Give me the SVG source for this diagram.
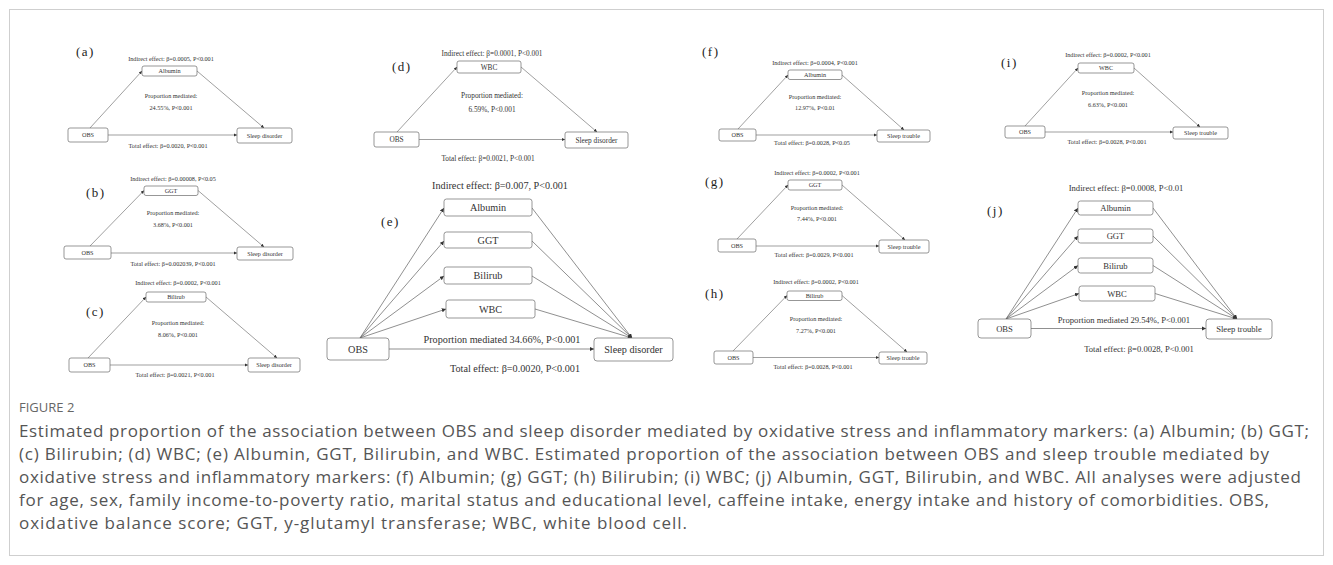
<svg xmlns="http://www.w3.org/2000/svg" width="1333" height="565" viewBox="0 0 1333 565">
<style>
.bx{fill:#fff;stroke:#6a6a6a;stroke-width:0.7}
.t{font-family:"Liberation Serif","Times New Roman",serif;fill:#333;text-anchor:middle}
.lb{font-family:"Liberation Serif","Times New Roman",serif;fill:#222;font-size:13px;letter-spacing:1.5px}
.ln{stroke:#606060;stroke-width:0.6;fill:none;marker-end:url(#ah)}
.lnL{stroke:#606060;stroke-width:0.7;fill:none;marker-end:url(#ahL)}
.s6{font-size:6.2px}.s7{font-size:7.3px}.s8{font-size:8.6px}.s10{font-size:10.2px}
.cap{font-family:"Open Sans","Liberation Sans",sans-serif;fill:#555;font-size:17px}
.fig{font-family:"Open Sans","Liberation Sans",sans-serif;fill:#666;font-size:13px}
</style>
<defs>
<marker id="ah" viewBox="0 0 6 6" refX="6" refY="3" markerWidth="3.2" markerHeight="3.2" markerUnits="userSpaceOnUse" orient="auto"><path d="M0,0 L6,3 L0,6 z" fill="#333"/></marker>
<marker id="ahL" viewBox="0 0 6 6" refX="6" refY="3" markerWidth="4.2" markerHeight="4.2" markerUnits="userSpaceOnUse" orient="auto"><path d="M0,0 L6,3 L0,6 z" fill="#333"/></marker>
</defs>
<rect x="9.5" y="9.5" width="1314" height="546" fill="#fff" stroke="#cfcfcf" stroke-width="1"/>

<g id="connectors">
<line class="ln" x1="90" y1="128" x2="142" y2="71"/>
<line class="ln" x1="197" y1="71" x2="264" y2="128"/>
<line class="ln" x1="108" y1="135" x2="237" y2="135"/>
<line class="ln" x1="90" y1="246" x2="144" y2="190.5"/>
<line class="ln" x1="198" y1="190.5" x2="264" y2="247"/>
<line class="ln" x1="111" y1="253" x2="237" y2="253"/>
<line class="ln" x1="88" y1="358" x2="146" y2="297"/>
<line class="ln" x1="206" y1="297" x2="277" y2="358"/>
<line class="ln" x1="110" y1="365" x2="248" y2="365"/>
<line class="ln" x1="397" y1="132" x2="457" y2="67"/>
<line class="ln" x1="521" y1="67" x2="597" y2="132"/>
<line class="ln" x1="419" y1="139.5" x2="565" y2="139.5"/>
<line class="lnL" x1="360" y1="338" x2="444" y2="208"/>
<line class="lnL" x1="360" y1="338" x2="444" y2="241"/>
<line class="lnL" x1="360" y1="338" x2="444" y2="276"/>
<line class="lnL" x1="360" y1="338" x2="446" y2="309"/>
<line class="lnL" x1="532" y1="208" x2="632" y2="338"/>
<line class="lnL" x1="532" y1="241" x2="632" y2="338"/>
<line class="lnL" x1="532" y1="276" x2="632" y2="338"/>
<line class="lnL" x1="535" y1="309" x2="632" y2="338"/>
<line class="lnL" x1="389" y1="349" x2="594" y2="349"/>
<line class="ln" x1="738" y1="129" x2="788" y2="75"/>
<line class="ln" x1="842" y1="75" x2="904" y2="130"/>
<line class="ln" x1="756" y1="135" x2="877" y2="135"/>
<line class="ln" x1="737" y1="239" x2="788" y2="185"/>
<line class="ln" x1="842" y1="185" x2="905" y2="240"/>
<line class="ln" x1="756" y1="246" x2="879" y2="246"/>
<line class="ln" x1="733" y1="351" x2="787" y2="295.5"/>
<line class="ln" x1="842" y1="295.5" x2="907" y2="352"/>
<line class="ln" x1="753" y1="357.5" x2="879" y2="357.5"/>
<line class="ln" x1="1025" y1="126" x2="1078" y2="68"/>
<line class="ln" x1="1134" y1="68" x2="1200" y2="127"/>
<line class="ln" x1="1045" y1="132" x2="1173" y2="132"/>
<line class="lnL" x1="1006" y1="319" x2="1078" y2="208"/>
<line class="lnL" x1="1006" y1="319" x2="1078" y2="236"/>
<line class="lnL" x1="1006" y1="319" x2="1078" y2="265.5"/>
<line class="lnL" x1="1006" y1="319" x2="1079" y2="293.5"/>
<line class="lnL" x1="1153" y1="208" x2="1237" y2="319"/>
<line class="lnL" x1="1153" y1="236" x2="1237" y2="319"/>
<line class="lnL" x1="1153" y1="265.5" x2="1237" y2="319"/>
<line class="lnL" x1="1155" y1="293.5" x2="1237" y2="319"/>
<line class="lnL" x1="1031" y1="328.5" x2="1206" y2="328.5"/>
</g>

<g id="a-labels">
<text class="lb" x="76" y="56">(a)</text>
<text class="t s6" x="171" y="61">Indirect effect: β=0.0005, P&lt;0.001</text>
<text class="t s6" x="171" y="98">Proportion mediated:</text>
<text class="t s6" x="171" y="110">24.55%, P&lt;0.001</text>
<text class="t s6" x="168" y="147.5">Total effect: β=0.0020, P&lt;0.001</text>
</g>
<g id="a-albumin"><rect class="bx" x="142" y="66" width="55" height="10" rx="2"/><text class="t s6" x="169.5" y="73.2">Albumin</text></g>
<g id="a-obs"><rect class="bx" x="68" y="128" width="40" height="14" rx="2"/><text class="t s6" x="88" y="137.2">OBS</text></g>
<g id="a-sleep"><rect class="bx" x="237" y="128" width="55" height="15" rx="2"/><text class="t s6" x="264.5" y="137.7">Sleep disorder</text></g>

<g id="b-labels">
<text class="lb" x="86" y="197">(b)</text>
<text class="t s6" x="173" y="180.5">Indirect effect: β=0.00008, P&lt;0.05</text>
<text class="t s6" x="173" y="215">Proportion mediated:</text>
<text class="t s6" x="173" y="227">3.68%, P&lt;0.001</text>
<text class="t s6" x="173" y="266">Total effect: β=0.002039, P&lt;0.001</text>
</g>
<g id="b-ggt"><rect class="bx" x="144" y="186" width="54" height="9.5" rx="2"/><text class="t s6" x="171" y="193">GGT</text></g>
<g id="b-obs"><rect class="bx" x="64" y="246" width="47" height="13" rx="2"/><text class="t s6" x="87.5" y="254.7">OBS</text></g>
<g id="b-sleep"><rect class="bx" x="237" y="247" width="56" height="13" rx="2"/><text class="t s6" x="265" y="255.7">Sleep disorder</text></g>

<g id="c-labels">
<text class="lb" x="86" y="316">(c)</text>
<text class="t s6" x="178" y="285">Indirect effect: β=0.0002, P&lt;0.001</text>
<text class="t s6" x="178" y="325">Proportion mediated:</text>
<text class="t s6" x="178" y="337">8.06%, P&lt;0.001</text>
<text class="t s6" x="175" y="377">Total effect: β=0.0021, P&lt;0.001</text>
</g>
<g id="c-bilirub"><rect class="bx" x="146" y="292" width="60" height="10" rx="2"/><text class="t s6" x="176" y="299.2">Bilirub</text></g>
<g id="c-obs"><rect class="bx" x="69" y="358" width="41" height="14" rx="2"/><text class="t s6" x="89.5" y="367.2">OBS</text></g>
<g id="c-sleep"><rect class="bx" x="248" y="358" width="52" height="14" rx="2"/><text class="t s6" x="274" y="367.2">Sleep disorder</text></g>

<g id="d-labels">
<text class="lb" x="392" y="71">(d)</text>
<text class="t s7" x="492" y="55.5">Indirect effect: β=0.0001, P&lt;0.001</text>
<text class="t s7" x="492" y="97.5">Proportion mediated:</text>
<text class="t s7" x="492" y="111.5">6.59%, P&lt;0.001</text>
<text class="t s7" x="488" y="160.5">Total effect: β=0.0021, P&lt;0.001</text>
</g>
<g id="d-wbc"><rect class="bx" x="457" y="61" width="64" height="12" rx="2"/><text class="t s7" x="489" y="69.5">WBC</text></g>
<g id="d-obs"><rect class="bx" x="374" y="132" width="45" height="15" rx="2"/><text class="t s7" x="396.5" y="142">OBS</text></g>
<g id="d-sleep"><rect class="bx" x="565" y="132" width="63" height="16" rx="2"/><text class="t s7" x="596.5" y="142.5">Sleep disorder</text></g>

<g id="e-labels">
<text class="lb" x="381" y="226">(e)</text>
<text class="t s10" x="500" y="188.5">Indirect effect: β=0.007, P&lt;0.001</text>
<text class="t s10" x="502" y="342.5">Proportion mediated 34.66%, P&lt;0.001</text>
<text class="t s10" x="515" y="372">Total effect: β=0.0020, P&lt;0.001</text>
</g>
<g id="e-albumin"><rect class="bx" x="444" y="199" width="88" height="17" rx="2.5"/><text class="t s10" x="488" y="211">Albumin</text></g>
<g id="e-ggt"><rect class="bx" x="444" y="232" width="88" height="16" rx="2.5"/><text class="t s10" x="488" y="243.5">GGT</text></g>
<g id="e-bilirub"><rect class="bx" x="444" y="267" width="88" height="17" rx="2.5"/><text class="t s10" x="488" y="279">Bilirub</text></g>
<g id="e-wbc"><rect class="bx" x="446" y="300" width="89" height="18" rx="2.5"/><text class="t s10" x="490.5" y="312.5">WBC</text></g>
<g id="e-obs"><rect class="bx" x="327" y="338" width="62" height="22" rx="3"/><text class="t s10" x="358" y="352.5">OBS</text></g>
<g id="e-sleep"><rect class="bx" x="594" y="338" width="79" height="23" rx="3"/><text class="t s10" x="633.5" y="353">Sleep disorder</text></g>

<g id="f-labels">
<text class="lb" x="702" y="56">(f)</text>
<text class="t s6" x="815" y="65">Indirect effect: β=0.0004, P&lt;0.001</text>
<text class="t s6" x="815" y="99">Proportion mediated:</text>
<text class="t s6" x="815" y="110">12.97%, P&lt;0.01</text>
<text class="t s6" x="812" y="145">Total effect: β=0.0028, P&lt;0.05</text>
</g>
<g id="f-albumin"><rect class="bx" x="788" y="70" width="54" height="9.5" rx="2"/><text class="t s6" x="815" y="77">Albumin</text></g>
<g id="f-obs"><rect class="bx" x="719" y="129" width="37" height="12" rx="2"/><text class="t s6" x="737.5" y="137.2">OBS</text></g>
<g id="f-sleep"><rect class="bx" x="877" y="130" width="53" height="12" rx="2"/><text class="t s6" x="903.5" y="138.2">Sleep trouble</text></g>

<g id="g-labels">
<text class="lb" x="705" y="186">(g)</text>
<text class="t s6" x="817" y="175">Indirect effect: β=0.0002, P&lt;0.001</text>
<text class="t s6" x="817" y="210">Proportion mediated:</text>
<text class="t s6" x="817" y="221">7.44%, P&lt;0.001</text>
<text class="t s6" x="814" y="257">Total effect: β=0.0029, P&lt;0.001</text>
</g>
<g id="g-ggt"><rect class="bx" x="788" y="180" width="54" height="10" rx="2"/><text class="t s6" x="815" y="187.2">GGT</text></g>
<g id="g-obs"><rect class="bx" x="718" y="239" width="38" height="13" rx="2"/><text class="t s6" x="737" y="247.7">OBS</text></g>
<g id="g-sleep"><rect class="bx" x="879" y="240" width="50" height="13" rx="2"/><text class="t s6" x="904" y="248.7">Sleep trouble</text></g>

<g id="h-labels">
<text class="lb" x="705" y="298">(h)</text>
<text class="t s6" x="816" y="284">Indirect effect: β=0.0002, P&lt;0.001</text>
<text class="t s6" x="816" y="321">Proportion mediated:</text>
<text class="t s6" x="816" y="333">7.27%, P&lt;0.001</text>
<text class="t s6" x="813" y="369">Total effect: β=0.0028, P&lt;0.001</text>
</g>
<g id="h-bilirub"><rect class="bx" x="787" y="291" width="55" height="9.5" rx="2"/><text class="t s6" x="814.5" y="298">Bilirub</text></g>
<g id="h-obs"><rect class="bx" x="714" y="351" width="39" height="13" rx="2"/><text class="t s6" x="733.5" y="359.7">OBS</text></g>
<g id="h-sleep"><rect class="bx" x="879" y="352" width="48" height="12" rx="2"/><text class="t s6" x="903" y="360.2">Sleep trouble</text></g>

<g id="i-labels">
<text class="lb" x="1001" y="67">(i)</text>
<text class="t s6" x="1108" y="57">Indirect effect: β=0.0002, P&lt;0.001</text>
<text class="t s6" x="1108" y="95">Proportion mediated:</text>
<text class="t s6" x="1108" y="107">6.63%, P&lt;0.001</text>
<text class="t s6" x="1107" y="144">Total effect: β=0.0028, P&lt;0.001</text>
</g>
<g id="i-wbc"><rect class="bx" x="1078" y="63" width="56" height="10" rx="2"/><text class="t s6" x="1106" y="70.2">WBC</text></g>
<g id="i-obs"><rect class="bx" x="1005" y="126" width="40" height="12" rx="2"/><text class="t s6" x="1025" y="134.2">OBS</text></g>
<g id="i-sleep"><rect class="bx" x="1173" y="127" width="55" height="12" rx="2"/><text class="t s6" x="1200.5" y="135.2">Sleep trouble</text></g>

<g id="j-labels">
<text class="lb" x="987" y="215">(j)</text>
<text class="t s8" x="1126" y="191">Indirect effect: β=0.0008, P&lt;0.01</text>
<text class="t s8" x="1124" y="323">Proportion mediated 29.54%, P&lt;0.001</text>
<text class="t s8" x="1139" y="352">Total effect: β=0.0028, P&lt;0.001</text>
</g>
<g id="j-albumin"><rect class="bx" x="1078" y="201" width="75" height="14" rx="2.5"/><text class="t s8" x="1115.5" y="211">Albumin</text></g>
<g id="j-ggt"><rect class="bx" x="1078" y="229" width="75" height="14" rx="2.5"/><text class="t s8" x="1115.5" y="239">GGT</text></g>
<g id="j-bilirub"><rect class="bx" x="1078" y="258" width="75" height="15" rx="2.5"/><text class="t s8" x="1115.5" y="268.5">Bilirub</text></g>
<g id="j-wbc"><rect class="bx" x="1079" y="286" width="76" height="15" rx="2.5"/><text class="t s8" x="1117" y="296.5">WBC</text></g>
<g id="j-obs"><rect class="bx" x="978" y="319" width="53" height="19" rx="3"/><text class="t s8" x="1004.5" y="331.5">OBS</text></g>
<g id="j-sleep"><rect class="bx" x="1206" y="319" width="66" height="20" rx="3"/><text class="t s8" x="1239" y="332">Sleep trouble</text></g>

<g id="caption">
<text class="fig" x="19" y="412">FIGURE 2</text>
<text class="cap" x="19" y="437" textLength="1290" lengthAdjust="spacing">Estimated proportion of the association between OBS and sleep disorder mediated by oxidative stress and inflammatory markers: (a) Albumin; (b) GGT;</text>
<text class="cap" x="19" y="460" textLength="1250" lengthAdjust="spacing">(c) Bilirubin; (d) WBC; (e) Albumin, GGT, Bilirubin, and WBC. Estimated proportion of the association between OBS and sleep trouble mediated by</text>
<text class="cap" x="19" y="483" textLength="1282" lengthAdjust="spacing">oxidative stress and inflammatory markers: (f) Albumin; (g) GGT; (h) Bilirubin; (i) WBC; (j) Albumin, GGT, Bilirubin, and WBC. All analyses were adjusted</text>
<text class="cap" x="19" y="506" textLength="1250" lengthAdjust="spacing">for age, sex, family income-to-poverty ratio, marital status and educational level, caffeine intake, energy intake and history of comorbidities. OBS,</text>
<text class="cap" x="19" y="529" textLength="668" lengthAdjust="spacing">oxidative balance score; GGT, y-glutamyl transferase; WBC, white blood cell.</text>
</g>
</svg>
